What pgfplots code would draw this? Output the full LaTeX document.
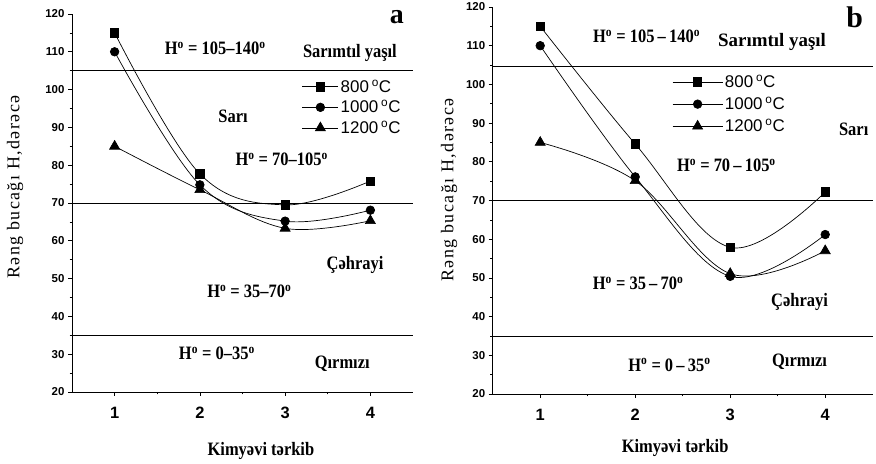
\documentclass[border=0pt]{standalone}
\usepackage{fontspec}
\setmainfont{Liberation Serif}
\setsansfont{Liberation Sans}
\newfontfamily\spaced[LetterSpace=8]{Liberation Serif}
\newfontfamily\annfont[FakeStretch=0.87]{Liberation Serif}
\usepackage{pgfplots}
\pgfplotsset{compat=1.18}

\newcommand{\dg}{\textsuperscript{o}}
\tikzset{ann/.style={anchor=base, font=\fontsize{19}{19}\selectfont\annfont\bfseries, inner sep=0pt}}
\pgfplotsset{
 hue/.style={
  scale only axis,
  axis x line*=bottom, axis y line*=left,
  xmin=0.5, xmax=4.5, ymin=20, ymax=120,
  xtick={1,2,3,4}, minor xtick={1.5,2.5,3.5},
  ytick={20,30,...,120}, minor ytick={25,35,...,115},
  tick align=outside,
  major tick length=4bp, minor tick length=2.5bp,
  every tick/.style={black, line width=0.6pt},
  /pgf/number format/assume math mode=true,
  xticklabel style={font=\fontsize{16.5}{16.5}\selectfont\sffamily\bfseries, yshift=-8bp},
  yticklabel style={font=\fontsize{11.5}{11.5}\selectfont\sffamily\bfseries},
  axis line style={line width=0.7pt},
  clip=false,
  ylabel={\spaced Rəng bucağı H,dərəcə},
  xlabel={Kimyəvi tərkib},
  ylabel style={anchor=center, font=\fontsize{18}{18}\selectfont},
  xlabel style={anchor=base, font=\fontsize{19}{19}\selectfont\annfont\bfseries},
  legend style={draw=none, fill=none, inner sep=0pt, font=\fontsize{17}{17}\selectfont\sffamily,
    anchor=north west},
  legend cell align=left,
 },
 ser/.style={black, line width=0.7pt, smooth, tension=0.6, mark options={solid, fill=black}},
 ref/.style={black, line width=0.7pt, no markers, forget plot},
}

\begin{document}
\begin{tikzpicture}[x=1bp,y=1bp]
\useasboundingbox (0,0) rectangle (876,464);

% ---------------- panel a ----------------
\begin{axis}[hue, at={(72bp,72bp)}, anchor=south west, width=341bp, height=378bp,
  ylabel style={at={(axis description cs:-0.167,0.542)}},
  xlabel style={at={(axis description cs:0.554,-0.168)}},
  legend style={at={(axis description cs:0.674,0.832)}, row sep=2.5bp},
  legend image code/.code={\draw[mark repeat=2,mark phase=2,#1] plot coordinates {(0bp,0bp) (18bp,0bp) (36bp,0bp)};},
]
\addplot[ser, mark=square*, mark size=4.2pt] coordinates {(1,115) (2,77.7) (3,69.5) (4,75.8)};
\addlegendentry{800\,\dg C}
\addplot[ser, mark=*, mark size=4.3pt] coordinates {(1,110) (2,74.8) (3,65.2) (4,68.1)};
\addlegendentry{1000\,\dg C}
\addplot[ser, mark=triangle*, mark size=5.8pt] coordinates {(1,85) (2,73.5) (3,63.3) (4,65.3)};
\addlegendentry{1200\,\dg C}
\addplot[ref] coordinates {(0.5,105) (4.5,105)};
\addplot[ref] coordinates {(0.5,70) (4.5,70)};
\addplot[ref] coordinates {(0.5,35) (4.5,35)};
\node[ann] at (axis cs:2.18,109.2) {H\dg\ = 105–140\dg};
\node[ann] at (axis cs:3.76,108.4) {Sarımtıl yaşıl};
\node[ann] at (axis cs:2.39,91.4) {Sarı};
\node[ann] at (axis cs:2.96,79.8) {H\dg\ = 70–105\dg};
\node[ann] at (axis cs:3.82,52.5) {Çəhrayi};
\node[ann] at (axis cs:2.58,44.9) {H\dg\ = 35–70\dg};
\node[ann] at (axis cs:2.2,28.5) {H\dg\ = 0–35\dg};
\node[ann] at (axis cs:3.67,26.3) {Qırmızı};
\node[anchor=base, inner sep=0pt, font=\fontsize{28}{28}\selectfont\bfseries] at (axis cs:4.31,117.6) {a};
\end{axis}

% ---------------- panel b ----------------
\begin{axis}[hue, at={(492.7bp,70bp)}, anchor=south west, width=380bp, height=387bp,
  ylabel style={at={(axis description cs:-0.115,0.527)}},
  xlabel style={at={(axis description cs:0.48,-0.152)}},
  legend style={at={(axis description cs:0.472,0.83)}, row sep=4bp},
  legend image code/.code={\draw[mark repeat=2,mark phase=2,#1] plot coordinates {(0bp,0bp) (25bp,0bp) (50bp,0bp)};},
]
\addplot[ser, mark=square*, mark size=4.2pt] coordinates {(1,115) (2,84.6) (3,57.9) (4,72.2)};
\addlegendentry{800\,\dg C}
\addplot[ser, mark=*, mark size=4.3pt] coordinates {(1,110) (2,76.1) (3,50.4) (4,61.2)};
\addlegendentry{1000\,\dg C}
\addplot[ser, mark=triangle*, mark size=5.8pt] coordinates {(1,85) (2,75.1) (3,51.1) (4,57)};
\addlegendentry{1200\,\dg C}
\addplot[ref] coordinates {(0.5,104.7) (4.5,104.7)};
\addplot[ref] coordinates {(0.5,70) (4.5,70)};
\addplot[ref] coordinates {(0.5,35) (4.5,35)};
\node[ann] at (axis cs:2.12,110.7) {H\dg\ = 105\,–\,140\dg};
\node[ann, font=\fontsize{19}{19}\selectfont\bfseries] at (axis cs:3.44,109.7) {Sarımtıl yaşıl};
\node[ann] at (axis cs:4.3,86.9) {Sarı};
\node[ann] at (axis cs:2.96,77.4) {H\dg\ = 70\,–\,105\dg};
\node[ann] at (axis cs:2.03,46.9) {H\dg\ = 35\,–\,70\dg};
\node[ann] at (axis cs:3.73,42.5) {Çəhrayi};
\node[ann] at (axis cs:2.36,25.9) {H\dg\ = 0\,–\,35\dg};
\node[ann] at (axis cs:3.73,27.0) {Qırmızı};
\node[anchor=base, inner sep=0pt, font=\fontsize{30}{30}\selectfont\bfseries] at (axis cs:4.31,114.8) {b};
\end{axis}
\end{tikzpicture}
\end{document}
